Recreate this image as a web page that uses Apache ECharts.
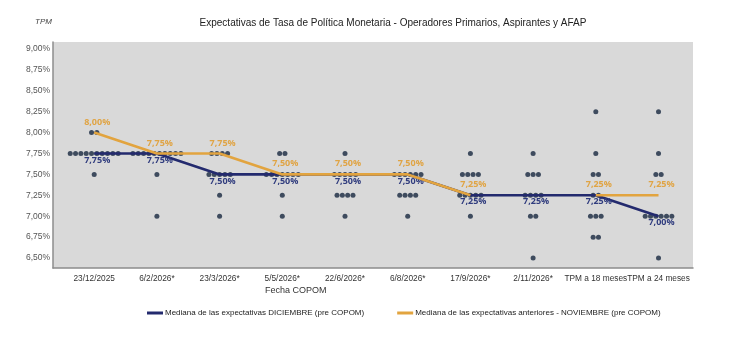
<!DOCTYPE html>
<html><head><meta charset="utf-8">
<script src="https://cdn.jsdelivr.net/npm/echarts@6/dist/echarts.min.js"></script>
<style>html,body{margin:0;padding:0;background:#fff}#c{width:730px;height:360px}</style>
</head><body><div id="c"></div>
<script>
const categories = ['23/12/2025','6/2/2026*','23/3/2026*','5/5/2026*','22/6/2026*','6/8/2026*','17/9/2026*','2/11/2026*','TPM a 18 meses','TPM a 24 meses'];
const medianDic = [7.75,7.75,7.50,7.50,7.50,7.50,7.25,7.25,7.25,7.00];
const medianNov = [8.00,7.75,7.75,7.50,7.50,7.50,7.25,null,7.25,7.25];
// individual answers per date: [value, number of respondents]
const responses = [
  [[8.00,2],[7.75,10],[7.50,1]],
  [[7.75,10],[7.50,1],[7.00,1]],
  [[7.75,4],[7.50,5],[7.25,1],[7.00,1]],
  [[7.75,2],[7.50,7],[7.25,1],[7.00,1]],
  [[7.75,1],[7.50,5],[7.25,4],[7.00,1]],
  [[7.50,6],[7.25,4],[7.00,1]],
  [[7.75,1],[7.50,4],[7.25,5],[7.00,1]],
  [[7.75,1],[7.50,3],[7.25,4],[7.00,2],[6.50,1]],
  [[8.25,1],[7.75,1],[7.50,2],[7.25,2],[7.00,3],[6.75,2]],
  [[8.25,1],[7.75,1],[7.50,2],[7.00,6],[6.50,1]]
];
const yTicks = [6.50,6.75,7.00,7.25,7.50,7.75,8.00,8.25,8.50,8.75,9.00];
const catTicks = categories.map((c,i)=>i);

const dotStep = 0.085;
const dots = [];
responses.forEach((list,i)=>{
  list.forEach(([v,n])=>{
    for(let k=0;k<n;k++){ dots.push([i+(k-(n-1)/2)*dotStep, v]); }
  });
});
const fmt = v => v.toFixed(2).replace('.',',') + '%';
const navy = '#232a6e', orange = '#e2a43f';
const font = "'Liberation Sans',Arial,sans-serif";

const chart = echarts.init(document.getElementById('c'));
chart.setOption({
  animation:false,
  backgroundColor:'#fff',
  title:{text:'Expectativas de Tasa de Política Monetaria - Operadores Primarios, Aspirantes y AFAP',
    left:388, top:13, textAlign:'center',
    textStyle:{fontFamily:font,fontSize:10,fontWeight:'normal',color:'#222'}},
  graphic:[
    {type:'text',left:35,top:18,style:{text:'TPM',font:"italic 8px 'Liberation Sans',Arial",fill:'#444'}},
    {type:'text',left:265,top:286,style:{text:'Fecha COPOM',font:"9px "+font,fill:'#333'}}
  ],
  legend:{left:142,top:304,itemWidth:16,itemHeight:3,itemGap:33,icon:'rect',
    textStyle:{fontFamily:font,fontSize:8,color:'#222',padding:[0,0,0,-3]},
    data:['Mediana de las expectativas DICIEMBRE (pre COPOM)','Mediana de las expectativas anteriores - NOVIEMBRE (pre COPOM)']},
  grid:{left:53,right:37,top:42,bottom:92,show:true,backgroundColor:'#d9d9d9',borderWidth:0},
  xAxis:{type:'value',min:-0.657,max:9.55,
    axisLine:{show:true,onZero:false,lineStyle:{color:'#8c8c8c',width:1.5}},
    axisTick:{show:false},splitLine:{show:false},
    axisLabel:{customValues:catTicks,formatter:v=>categories[Math.round(v)],hideOverlap:false,
      fontFamily:font,fontSize:8.3,color:'#333',margin:7}},
  yAxis:{type:'value',min:6.381,max:9.083,
    axisLine:{show:true,onZero:false,lineStyle:{color:'#8c8c8c',width:1.5}},
    axisTick:{show:false},splitLine:{show:false},
    axisLabel:{customValues:yTicks,formatter:fmt,fontFamily:font,fontSize:8.5,color:'#555',margin:3}},
  series:[
    {type:'scatter',name:'Respuestas',data:dots,symbolSize:5,itemStyle:{color:'#3e4b5e',opacity:1},z:2,silent:true},
    {type:'line',name:'Mediana de las expectativas DICIEMBRE (pre COPOM)',
      data:medianDic.map((v,i)=>[i,v]),color:navy,lineStyle:{width:2.6,color:navy},
      symbol:'circle',symbolSize:0.1,showSymbol:true,z:3,
      label:{show:true,position:'bottom',distance:2,offset:[3,0],formatter:p=>fmt(p.value[1]),
        fontFamily:"'Open Sans',sans-serif",fontWeight:'bold',fontSize:9,color:'#303c7e'}},
    {type:'line',name:'Mediana de las expectativas anteriores - NOVIEMBRE (pre COPOM)',
      data:medianNov.map((v,i)=>[i,v]),color:orange,lineStyle:{width:2.6,color:orange},connectNulls:false,
      symbol:'circle',symbolSize:0.1,showSymbol:true,z:4,
      label:{show:true,position:'top',distance:6,offset:[3,0],formatter:p=>fmt(p.value[1]),
        fontFamily:"'Open Sans',sans-serif",fontWeight:'bold',fontSize:9,color:'#e0a444'}}
  ]
});
</script></body></html>
